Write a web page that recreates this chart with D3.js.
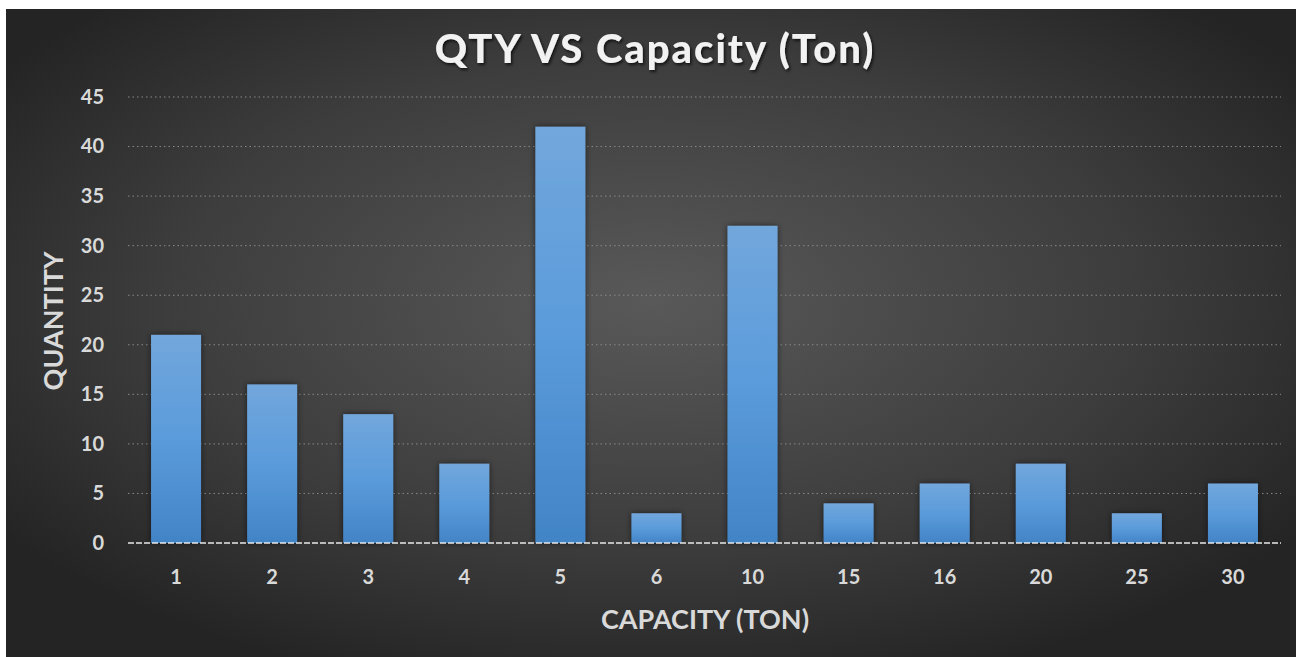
<!DOCTYPE html>
<html>
<head>
<meta charset="utf-8">
<script src="https://cdn.jsdelivr.net/npm/d3@7"></script>
<style>
  html, body { margin: 0; padding: 0; background: #ffffff; }
  svg { display: block; }
</style>
</head>
<body>
<svg id="chart" width="1297" height="657"></svg>
<script>
const categories = ["1", "2", "3", "4", "5", "6", "10", "15", "16", "20", "25", "30"];
const quantities = [21, 16, 13, 8, 42, 3, 32, 4, 6, 8, 3, 6];
const yTicks = [0, 5, 10, 15, 20, 25, 30, 35, 40, 45];
const titleText = "QTY VS Capacity (Ton)";
const xTitle = "CAPACITY (TON)";
const yTitle = "QUANTITY";

const svg = d3.select("#chart");
const W = 1297, H = 657;
const defs = svg.append("defs");

const bg = defs.append("radialGradient").attr("id", "bg")
  .attr("cx", "50%").attr("cy", "45%").attr("r", "62%")
  .attr("gradientUnits", "objectBoundingBox");
bg.append("stop").attr("offset", "0%").attr("stop-color", "#595959");
bg.append("stop").attr("offset", "60%").attr("stop-color", "#3d3d3d");
bg.append("stop").attr("offset", "100%").attr("stop-color", "#242424");

const barG = defs.append("linearGradient").attr("id", "barG")
  .attr("x1", 0).attr("y1", 0).attr("x2", 0).attr("y2", 1);
barG.append("stop").attr("offset", "0%").attr("stop-color", "#72a7dc");
barG.append("stop").attr("offset", "50%").attr("stop-color", "#5a9bdb");
barG.append("stop").attr("offset", "100%").attr("stop-color", "#4284c6");

const sh = defs.append("filter").attr("id", "shadow")
  .attr("x", "-20%").attr("y", "-20%").attr("width", "140%").attr("height", "140%");
sh.append("feDropShadow").attr("dx", 0).attr("dy", 0).attr("stdDeviation", 3)
  .attr("flood-color", "#000").attr("flood-opacity", 0.55);

const tsh = defs.append("filter").attr("id", "tshadow");
tsh.append("feDropShadow").attr("dx", 1.5).attr("dy", 2).attr("stdDeviation", 1.5)
  .attr("flood-color", "#000").attr("flood-opacity", 0.7);

svg.append("rect").attr("x", 6).attr("y", 9).attr("width", W - 7).attr("height", H - 9)
  .attr("fill", "url(#bg)");

const plot = { left: 128, right: 1281, top: 97, bottom: 543 };

const x = d3.scaleBand().domain(categories)
  .range([plot.left, plot.right]).paddingInner(0.48).paddingOuter(0.24);
const y = d3.scaleLinear().domain([0, 45]).range([plot.bottom, plot.top]);

// gridlines
svg.append("g").selectAll("line").data(yTicks.filter(d => d > 0)).join("line")
  .attr("x1", plot.left).attr("x2", plot.right)
  .attr("y1", d => y(d)).attr("y2", d => y(d))
  .attr("stroke", "#8a8a8a").attr("stroke-width", 1)
  .attr("stroke-dasharray", "1.5,3");

// bars
svg.append("g").selectAll("rect").data(categories).join("rect")
  .attr("x", d => x(d))
  .attr("width", x.bandwidth())
  .attr("y", (d, i) => y(quantities[i]))
  .attr("height", (d, i) => y(0) - y(quantities[i]))
  .attr("fill", "url(#barG)")
  .attr("filter", "url(#shadow)");

// baseline
svg.append("line").attr("x1", plot.left).attr("x2", plot.right)
  .attr("y1", y(0)).attr("y2", y(0))
  .attr("stroke", "#e8e8e8").attr("stroke-width", 1.5)
  .attr("stroke-dasharray", "6,2");

const labelFont = "Lato, 'Open Sans', sans-serif";

// y axis
const yAxis = d3.axisLeft(y).tickValues(yTicks).tickSize(0).tickPadding(0);
const yg = svg.append("g").attr("transform", `translate(104,0)`).call(yAxis);
yg.select(".domain").remove();
yg.selectAll("text")
  .attr("fill", "#d9d9d9")
  .style("font-family", labelFont)
  .style("font-weight", "bold")
  .style("font-size", "20px");

// x axis
const xAxis = d3.axisBottom(x).tickSize(0).tickPadding(0);
const xg = svg.append("g").attr("transform", `translate(0,570)`).call(xAxis);
xg.select(".domain").remove();
xg.selectAll("text")
  .attr("fill", "#d9d9d9")
  .attr("dy", "0.71em")
  .style("font-family", labelFont)
  .style("font-weight", "bold")
  .style("font-size", "20px");

// title
svg.append("text").attr("x", 655).attr("y", 63)
  .attr("text-anchor", "middle")
  .attr("fill", "#f2f2f2")
  .attr("filter", "url(#tshadow)")
  .style("font-family", "Lato, sans-serif")
  .style("font-weight", "900")
  .style("font-size", "40px")
  .style("letter-spacing", "2px")
  .text(titleText);

// axis titles
svg.append("text").attr("x", 705).attr("y", 629)
  .attr("text-anchor", "middle")
  .attr("fill", "#d9d9d9")
  .style("font-family", labelFont)
  .style("font-weight", "bold")
  .style("font-size", "27px")
  .text(xTitle);

svg.append("text")
  .attr("transform", "translate(63,321) rotate(-90)")
  .attr("text-anchor", "middle")
  .attr("fill", "#d9d9d9")
  .style("font-family", labelFont)
  .style("font-weight", "bold")
  .style("font-size", "27px")
  .text(yTitle);
</script>
</body>
</html>
